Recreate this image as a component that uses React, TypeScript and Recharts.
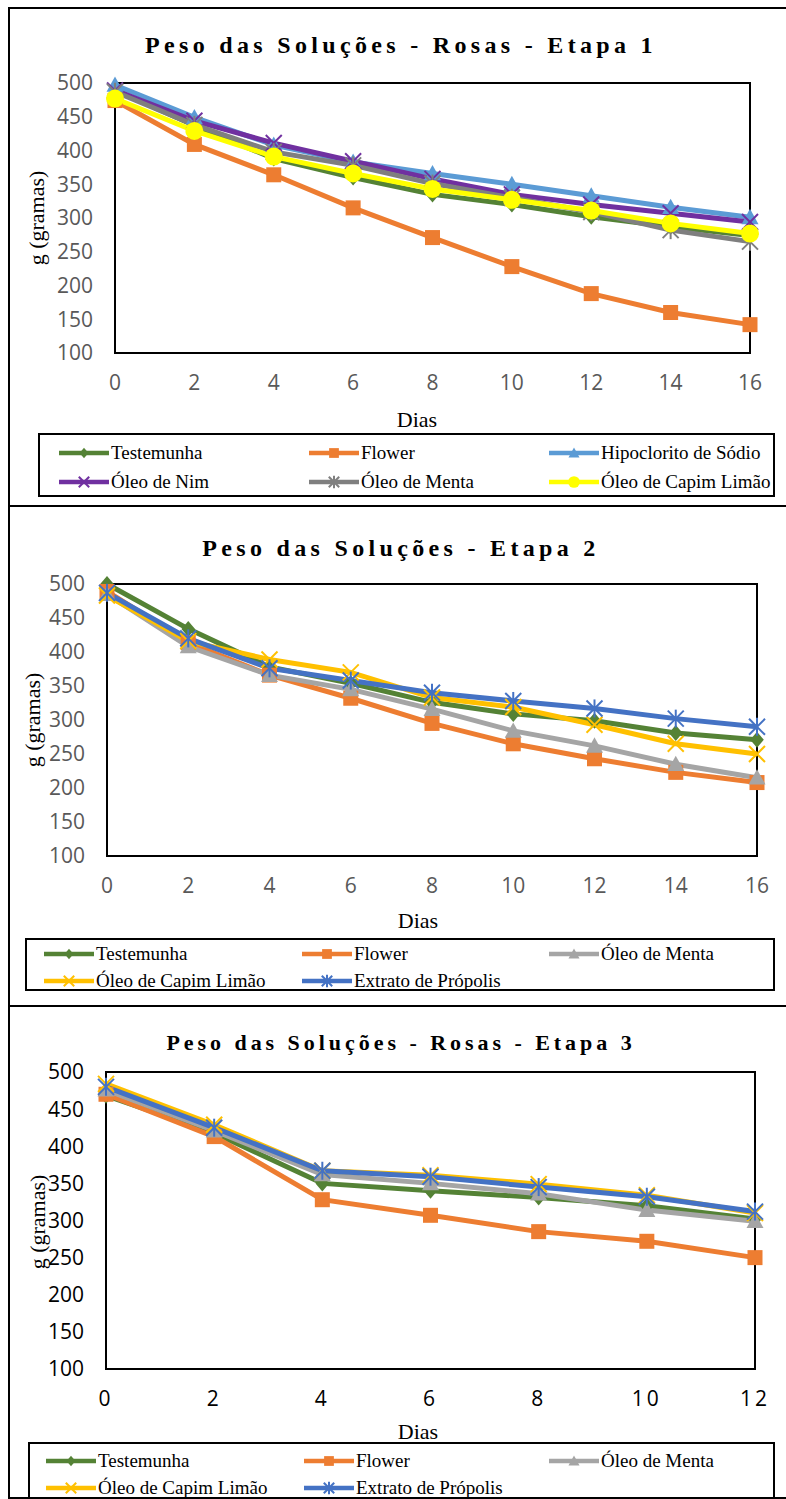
import React from "react";
import { LineChart, Line, XAxis, YAxis, ReferenceArea } from "recharts";

// Etapa 1 (dias 0..16)
const dias1 = [0, 2, 4, 6, 8, 10, 12, 14, 16];
const testemunha1 = [490, 437, 388, 360, 335, 320, 302, 287, 274];
const flower1 = [474, 409, 364, 315, 271, 228, 188, 160, 142];
const hipoclorito1 = [497, 449, 408, 383, 366, 350, 333, 316, 301];
const nim1 = [489, 444, 411, 384, 358, 335, 320, 307, 294];
const menta1 = [487, 438, 398, 378, 351, 330, 309, 282, 265];
const capim1 = [477, 429, 391, 366, 343, 327, 311, 292, 277];

// Etapa 2 (dias 0..16)
const dias2 = [0, 2, 4, 6, 8, 10, 12, 14, 16];
const testemunha2 = [500, 434, 378, 354, 326, 309, 299, 281, 271];
const flower2 = [489, 414, 366, 332, 295, 265, 243, 223, 208];
const menta2 = [485, 408, 366, 345, 316, 284, 262, 235, 215];
const capim2 = [483, 416, 389, 370, 333, 319, 293, 265, 250];
const propolis2 = [487, 420, 376, 358, 340, 328, 317, 302, 290];

// Etapa 3 (dias 0..12)
const dias3 = [0, 2, 4, 6, 8, 10, 12];
const testemunha3 = [468, 418, 350, 340, 331, 320, 302];
const flower3 = [470, 413, 328, 307, 285, 272, 250];
const menta3 = [476, 421, 362, 350, 336, 314, 299];
const capim3 = [484, 429, 367, 361, 349, 334, 310];
const propolis3 = [480, 425, 367, 359, 345, 332, 312];

const yTicks = [100, 150, 200, 250, 300, 350, 400, 450, 500];

const SERIF = "'Liberation Serif', 'Times New Roman', serif";

type Shape = "diamond" | "square" | "triangle" | "x" | "star" | "circle";

interface Serie {
  name: string;
  color: string;
  shape: Shape;
  values: number[];
}

function Marker({ shape, color, cx, cy, s = 1 }: { shape: Shape; color: string; cx: number; cy: number; s?: number }) {
  if (shape === "diamond") {
    const h = 8 * s;
    return <polygon points={`${cx},${cy - h} ${cx + h * 0.85},${cy} ${cx},${cy + h} ${cx - h * 0.85},${cy}`} fill={color} />;
  }
  if (shape === "square") {
    const h = 7.5 * s;
    return <rect x={cx - h} y={cy - h} width={2 * h} height={2 * h} fill={color} />;
  }
  if (shape === "triangle") {
    const h = 8.5 * s;
    return <polygon points={`${cx},${cy - h} ${cx + h},${cy + h * 0.8} ${cx - h},${cy + h * 0.8}`} fill={color} />;
  }
  if (shape === "circle") {
    return <circle cx={cx} cy={cy} r={9 * s} fill={color} />;
  }
  const h = 8 * s;
  return (
    <g stroke={color} strokeWidth={2}>
      <line x1={cx - h} y1={cy - h} x2={cx + h} y2={cy + h} />
      <line x1={cx - h} y1={cy + h} x2={cx + h} y2={cy - h} />
      {shape === "star" && <line x1={cx} y1={cy - h - 1} x2={cx} y2={cy + h + 1} />}
    </g>
  );
}

interface PanelCfg {
  height: number;
  dias: number[];
  series: Serie[];
  plot: { left: number; right: number; top: number; bottom: number };
  title: string;
  titleSize: number;
  titleY: number;
  tickColor: string;
  xTickSpacing: number;
  diasPos: [number, number];
  yLabelPos: [number, number];
  legend: { left: number; top: number; width: number; height: number; cols: number[]; rows: number[] };
  topBorder: boolean;
}

const W = 778;

function Panel({ cfg }: { cfg: PanelCfg }) {
  const { height, dias, series, plot } = cfg;
  const data = dias.map((d, i) => {
    const row: Record<string, number> = { dia: d };
    series.forEach((s) => {
      row[s.name] = s.values[i];
    });
    return row;
  });
  const maxDia = dias[dias.length - 1];
  const tickStyle = { fill: cfg.tickColor, fontSize: 21, fontFamily: "Open Sans" };

  return (
    <div style={{ position: "relative", width: W, height }}>
      <LineChart
        width={W}
        height={height}
        data={data}
        margin={{ top: plot.top, right: W - plot.right, bottom: height - plot.bottom - 30, left: 0 }}
      >
        <XAxis
          dataKey="dia"
          type="number"
          domain={[0, maxDia]}
          ticks={dias}
          interval={0}
          height={30}
          axisLine={false}
          tickLine={false}
          tickSize={0}
          tickMargin={22}
          tick={{ ...tickStyle, letterSpacing: cfg.xTickSpacing }}
        />
        <YAxis
          domain={[100, 500]}
          ticks={yTicks}
          interval={0}
          width={plot.left}
          axisLine={false}
          tickLine={false}
          tickSize={0}
          tickMargin={22}
          tick={tickStyle}
        />
        <ReferenceArea x1={0} x2={maxDia} y1={100} y2={500} fill="none" stroke="#000" strokeWidth={2} />
        {series.map((s) => (
          <Line
            key={s.name}
            dataKey={s.name}
            stroke={s.color}
            strokeWidth={5}
            isAnimationActive={false}
            activeDot={false}
            dot={(p: any) => <Marker key={`${s.name}-${p.index}`} shape={s.shape} color={s.color} cx={p.cx} cy={p.cy} />}
          />
        ))}
      </LineChart>

      <div
        style={{
          position: "absolute",
          left: 393,
          top: cfg.titleY,
          transform: "translate(-50%, -50%)",
          whiteSpace: "nowrap",
          fontFamily: SERIF,
          fontWeight: "bold",
          fontSize: cfg.titleSize,
          letterSpacing: cfg.titleSize * 0.18,
          color: "#000",
        }}
      >
        {cfg.title}
      </div>

      <div
        style={{
          position: "absolute",
          left: cfg.diasPos[0],
          top: cfg.diasPos[1],
          transform: "translate(-50%, -50%)",
          fontFamily: SERIF,
          fontSize: 22,
        }}
      >
        Dias
      </div>

      <div
        style={{
          position: "absolute",
          left: cfg.yLabelPos[0],
          top: cfg.yLabelPos[1],
          transform: "translate(-50%, -50%) rotate(-90deg)",
          whiteSpace: "nowrap",
          fontFamily: SERIF,
          fontSize: 22,
        }}
      >
        g (gramas)
      </div>

      <div
        style={{
          position: "absolute",
          left: cfg.legend.left,
          top: cfg.legend.top,
          width: cfg.legend.width,
          height: cfg.legend.height,
          border: "2px solid #000",
          boxSizing: "border-box",
        }}
      >
        {series.map((s, i) => (
          <div
            key={s.name}
            style={{
              position: "absolute",
              left: cfg.legend.cols[i % 3],
              top: cfg.legend.rows[Math.floor(i / 3)] - 13,
              height: 26,
              display: "flex",
              alignItems: "center",
              whiteSpace: "nowrap",
              fontFamily: SERIF,
              fontSize: 19,
            }}
          >
            <svg width={54} height={18}>
              <line x1={2} y1={9} x2={52} y2={9} stroke={s.color} strokeWidth={4.5} />
              <Marker shape={s.shape} color={s.color} cx={27} cy={9} s={0.65} />
            </svg>
            <span>{s.name}</span>
          </div>
        ))}
      </div>

      <div
        style={{
          position: "absolute",
          inset: 0,
          borderLeft: "2px solid #000",
          borderTop: cfg.topBorder ? "2px solid #000" : undefined,
          borderBottom: "2px solid #000",
          pointerEvents: "none",
        }}
      />
    </div>
  );
}

const panel1: PanelCfg = {
  height: 500,
  dias: dias1,
  series: [
    { name: "Testemunha", color: "#548235", shape: "diamond", values: testemunha1 },
    { name: "Flower", color: "#ED7D31", shape: "square", values: flower1 },
    { name: "Hipoclorito de Sódio", color: "#5B9BD5", shape: "triangle", values: hipoclorito1 },
    { name: "Óleo de Nim", color: "#7030A0", shape: "x", values: nim1 },
    { name: "Óleo de Menta", color: "#7F7F7F", shape: "star", values: menta1 },
    { name: "Óleo de Capim Limão", color: "#FFFF00", shape: "circle", values: capim1 },
  ],
  plot: { left: 107, right: 742, top: 76, bottom: 346 },
  title: "Peso das Soluções - Rosas - Etapa 1",
  titleSize: 24,
  titleY: 38,
  tickColor: "#595959",
  xTickSpacing: 0,
  diasPos: [409, 413],
  yLabelPos: [29, 211],
  legend: { left: 30, top: 426, width: 737, height: 64, cols: [17, 267, 507], rows: [18, 47] },
  topBorder: true,
};

const panel2: PanelCfg = {
  height: 500,
  dias: dias2,
  series: [
    { name: "Testemunha", color: "#548235", shape: "diamond", values: testemunha2 },
    { name: "Flower", color: "#ED7D31", shape: "square", values: flower2 },
    { name: "Óleo de Menta", color: "#A5A5A5", shape: "triangle", values: menta2 },
    { name: "Óleo de Capim Limão", color: "#FFC000", shape: "x", values: capim2 },
    { name: "Extrato de Própolis", color: "#4472C4", shape: "star", values: propolis2 },
  ],
  plot: { left: 99, right: 749, top: 77, bottom: 349 },
  title: "Peso das Soluções - Etapa 2",
  titleSize: 24,
  titleY: 41,
  tickColor: "#595959",
  xTickSpacing: 0,
  diasPos: [410, 414],
  yLabelPos: [25, 213],
  legend: { left: 17, top: 431, width: 750, height: 53, cols: [15, 273, 520], rows: [14, 41] },
  topBorder: false,
};

const panel3: PanelCfg = {
  height: 492,
  dias: dias3,
  series: [
    { name: "Testemunha", color: "#548235", shape: "diamond", values: testemunha3 },
    { name: "Flower", color: "#ED7D31", shape: "square", values: flower3 },
    { name: "Óleo de Menta", color: "#A5A5A5", shape: "triangle", values: menta3 },
    { name: "Óleo de Capim Limão", color: "#FFC000", shape: "x", values: capim3 },
    { name: "Extrato de Própolis", color: "#4472C4", shape: "star", values: propolis3 },
  ],
  plot: { left: 98, right: 747, top: 65, bottom: 362 },
  title: "Peso das Soluções - Rosas - Etapa 3",
  titleSize: 22,
  titleY: 36,
  tickColor: "#000",
  xTickSpacing: 3,
  diasPos: [410, 425],
  yLabelPos: [30, 215],
  legend: { left: 20, top: 435, width: 747, height: 64, cols: [14, 272, 517], rows: [17, 44] },
  topBorder: false,
};

export default function App() {
  return (
    <>
      <style>{`body{margin:0;overflow:hidden;background:#fff}`}</style>
      <div style={{ marginLeft: 8, marginTop: 7, width: W, height: 1492, overflow: "hidden" }}>
        <Panel cfg={panel1} />
        <Panel cfg={panel2} />
        <Panel cfg={panel3} />
      </div>
    </>
  );
}
